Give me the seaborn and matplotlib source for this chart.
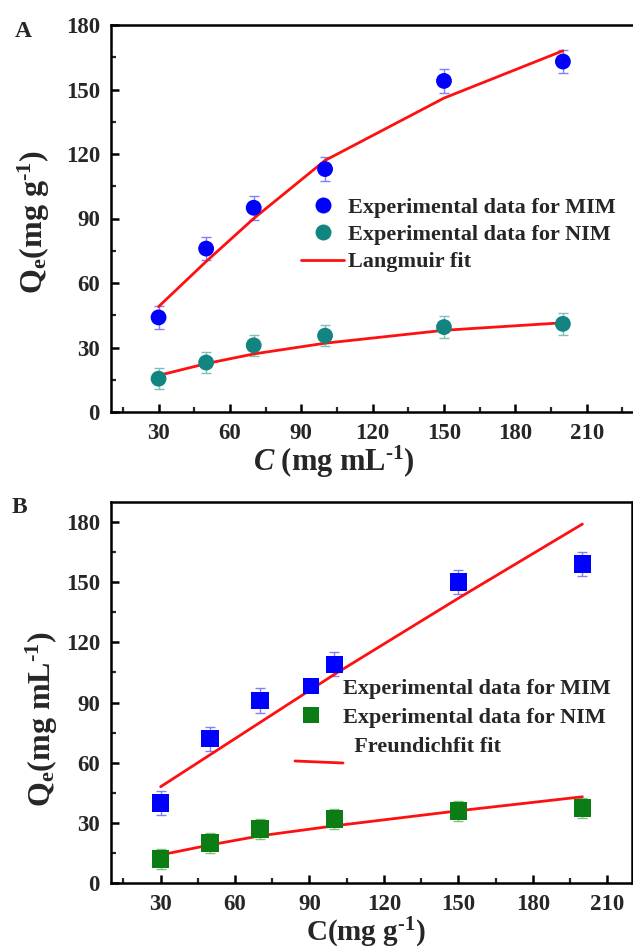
import numpy as np
import pandas as pd
import matplotlib
matplotlib.use("Agg")
import matplotlib.pyplot as plt
from matplotlib.lines import Line2D
from matplotlib.ticker import MultipleLocator
import seaborn as sns

# ---------------- data ----------------
conc = [30, 50, 70, 100, 150, 200]

# Panel A (Langmuir)
a_mim = [44, 76, 95, 113, 154, 163]
a_mim_err = [5.5, 5.5, 5.5, 5.5, 5.5, 5.5]
a_nim = [15.5, 23, 31, 35.5, 39.5, 41]
a_nim_err = [5, 5, 5, 5, 5, 5]
a_mim_fit = [49, 70, 90, 117, 146, 168]
a_nim_fit = [17, 22.5, 27, 32, 38, 41.5]

# Panel B (Freundlich)
b_mim = [40, 72, 91, 109, 150, 159]
b_mim_err = [6, 6, 6, 6, 6, 6]
b_nim = [12, 20, 27, 32, 36, 37.5]
b_nim_err = [5, 5, 5, 5, 5, 5]
b_mim_fit = [48, 64, 80, 104, 142, 179]
b_nim_fit = [14, 19, 23.5, 28.5, 36, 43]

yticks = [0, 30, 60, 90, 120, 150, 180]
xticks = [30, 60, 90, 120, 150, 180, 210]

# ---------------- style ----------------
sns.set_theme(style="white")
plt.rcParams["font.family"] = ["Liberation Serif", "DejaVu Serif"]
plt.rcParams["font.weight"] = "bold"
plt.rcParams["mathtext.fontset"] = "custom"
plt.rcParams["mathtext.rm"] = "Liberation Serif:bold"
plt.rcParams["mathtext.it"] = "Liberation Serif:italic:bold"
plt.rcParams["mathtext.bf"] = "Liberation Serif:bold"
plt.rcParams["mathtext.default"] = "rm"

BLUE = "#0000FF"
TEAL = "#138580"
GREEN = "#0B7D14"
RED = "#FF1010"
TICK_FS = 16.5
LEG_FS = 16

fig = plt.figure(figsize=(6.33, 9.52), dpi=100)
W, H = 633, 952

def px_axes(left, top, right, bottom):
    return fig.add_axes([left / W, (H - bottom) / H, (right - left) / W, (bottom - top) / H])

axA = px_axes(111, 25, 639, 412)
axB = px_axes(111, 502, 632, 883)


def style_axes(ax, ylim, xlim):
    ax.set_xlim(*xlim)
    ax.set_ylim(*ylim)
    ax.set_xticks(xticks)
    ax.set_yticks(yticks)
    ax.xaxis.set_minor_locator(MultipleLocator(15))
    ax.yaxis.set_minor_locator(MultipleLocator(15))
    ax.tick_params(which="major", direction="in", length=6, width=1.8,
                   labelsize=TICK_FS, pad=8, color="black",
                   bottom=True, left=True, top=False, right=False)
    ax.tick_params(which="minor", direction="in", length=3.5, width=1.6,
                   bottom=True, left=True, top=False, right=False)
    for lab in ax.get_xticklabels() + ax.get_yticklabels():
        lab.set_fontweight("bold")
    for s in ax.spines.values():
        s.set_linewidth(1.8)
        s.set_color("black")
    ax.grid(False)


def draw(ax, y1, e1, y2, e2, f1, f2, c1, c2, marker, ms):
    ax.errorbar(conc, y1, yerr=e1, fmt="none", ecolor="#8080FF", elinewidth=1.0,
                capsize=3.5, capthick=1.0, zorder=2)
    ax.errorbar(conc, y2, yerr=e2, fmt="none", ecolor="#7FC0BC" if c2 == TEAL else "#7FC07F",
                elinewidth=1.0, capsize=3.5, capthick=1.0, zorder=2)
    sns.lineplot(x=conc, y=f1, ax=ax, color=RED, linewidth=2.0, zorder=3, legend=False)
    sns.lineplot(x=conc, y=f2, ax=ax, color=RED, linewidth=2.0, zorder=3, legend=False)
    sns.scatterplot(x=conc, y=y1, ax=ax, color=c1, marker=marker, s=ms, edgecolor="none",
                    zorder=4, legend=False)
    sns.scatterplot(x=conc, y=y2, ax=ax, color=c2, marker=marker, s=ms, edgecolor="none",
                    zorder=4, legend=False)


# ---------------- Panel A ----------------
draw(axA, a_mim, a_mim_err, a_nim, a_nim_err, a_mim_fit, a_nim_fit, BLUE, TEAL, "o", 130)
style_axes(axA, (0, 180), (10, 232))
axA.set_xlabel(r"$\mathit{C}$ (mg mL$^{\text{-1}}$)", fontsize=22, fontweight="bold")
axA.set_ylabel(r"Q$_{e}$(mg g$^{\text{-1}}$)", fontsize=23, fontweight="bold")
axA.xaxis.set_label_coords((334 - 111) / 528, -0.083)
axA.yaxis.set_label_coords(-0.112, 0.49)

hA = [Line2D([], [], linestyle="none", marker="o", markersize=11.5, color=BLUE, markeredgewidth=0),
      Line2D([], [], linestyle="none", marker="o", markersize=11.5, color=TEAL, markeredgewidth=0),
      Line2D([], [], color=RED, linewidth=2.0)]
legA = axA.legend(hA, ["Experimental data for MIM", "Experimental data for NIM", "Langmuir fit"],
                  loc="upper left", bbox_to_anchor=((301 - 111) / 528, (412 - 197) / 387),
                  frameon=False, fontsize=LEG_FS, handlelength=1.95, handletextpad=0.15,
                  labelspacing=0.31, borderpad=0, borderaxespad=0)
for t in legA.get_texts():
    t.set_fontweight("bold")

# ---------------- Panel B ----------------
draw(axB, b_mim, b_mim_err, b_nim, b_nim_err, b_mim_fit, b_nim_fit, BLUE, GREEN, "s", 160)
style_axes(axB, (0, 190), (10, 220))
axB.set_xlabel(r"C(mg g$^{\text{-1}}$)", fontsize=21, fontweight="bold")
axB.set_ylabel(r"Q$_{e}$(mg mL$^{\text{-1}}$)", fontsize=23, fontweight="bold")
axB.xaxis.set_label_coords((366 - 111) / 521, -0.086)
axB.yaxis.set_label_coords(-0.098, 0.43)

hB = [Line2D([], [], linestyle="none", marker="s", markersize=11.5, color=BLUE, markeredgewidth=0),
      Line2D([], [], linestyle="none", marker="s", markersize=11.5, color=GREEN, markeredgewidth=0),
      Line2D([], [], linestyle="none", marker="none")]
legB = axB.legend(hB, ["Experimental data for MIM", "Experimental data for NIM", "  Freundichfit fit"],
                  loc="upper left", bbox_to_anchor=((295 - 111) / 521, (883 - 678) / 381),
                  frameon=False, fontsize=LEG_FS, handlelength=1.45, handletextpad=0.7,
                  labelspacing=0.38, borderpad=0, borderaxespad=0)
for t in legB.get_texts():
    t.set_fontweight("bold")
# detached legend key for the fit line (as in the original figure)
axB.add_line(Line2D([(295 - 111) / 521, (343 - 111) / 521],
                    [(883 - 761) / 381, (883 - 763) / 381],
                    transform=axB.transAxes, color=RED, linewidth=2.0, clip_on=False))

# panel letters
fig.text(15 / W, 1 - 37 / H, "A", fontsize=17, fontweight="bold", va="baseline")
fig.text(12 / W, 1 - 513 / H, "B", fontsize=17, fontweight="bold", va="baseline")

fig.savefig("out.png", dpi=100)
